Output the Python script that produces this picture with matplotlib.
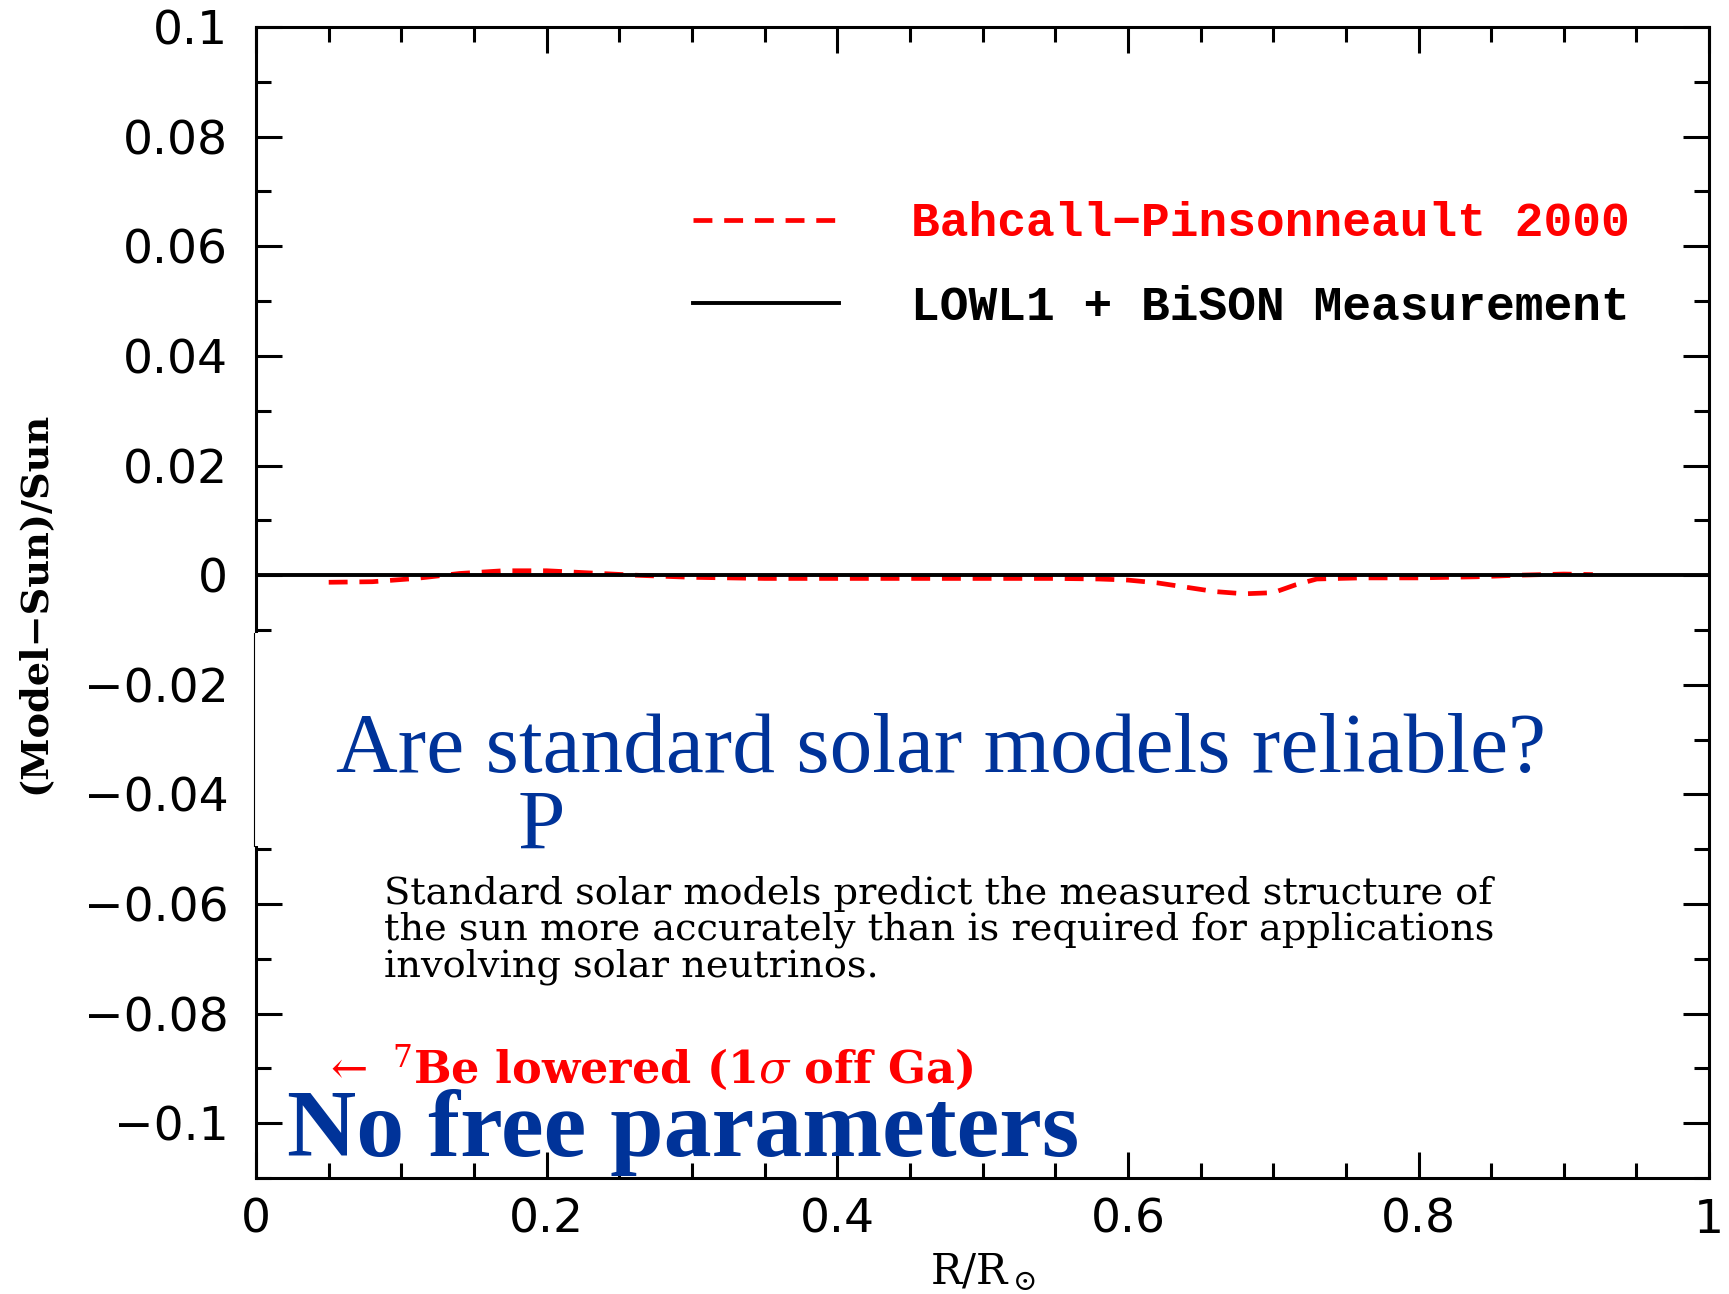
import numpy as np
import matplotlib
matplotlib.use("Agg")
import matplotlib.pyplot as plt
from matplotlib.ticker import MultipleLocator, FuncFormatter
from matplotlib.patches import Rectangle
from matplotlib.lines import Line2D

plt.rcParams["mathtext.fontset"] = "dejavuserif"

# sound speed difference, BP2000 model vs helioseismology
bp_r = [0.05, 0.08, 0.11, 0.14, 0.17, 0.20, 0.23, 0.26, 0.30, 0.35, 0.40, 0.45,
        0.50, 0.55, 0.58, 0.60, 0.62, 0.64, 0.66, 0.68, 0.70, 0.715, 0.73, 0.76,
        0.80, 0.84, 0.87, 0.90, 0.92]
bp_d = [-0.0013, -0.0012, -0.0006, 0.0003, 0.0008, 0.0008, 0.0004, 0.0000, -0.0004,
        -0.0006, -0.0006, -0.0006, -0.0006, -0.0006, -0.0007, -0.0009, -0.0014,
        -0.0022, -0.0030, -0.0034, -0.0032, -0.0018, -0.0007, -0.0005, -0.0005,
        -0.0003, 0.0, 0.0002, 0.0001]
meas_r = [0, 1]
meas_d = [0, 0]

bp_label = "Bahcall\u2212Pinsonneault 2000"
meas_label = "LOWL1 + BiSON Measurement"

blue = "#003399"

fig = plt.figure(figsize=(17.29, 12.94), dpi=100)
ax = fig.add_axes([0.1481, 0.0896, 0.8404, 0.8895])

ax.plot(bp_r, bp_d, color="red", lw=3.4, linestyle=(0, (4, 2.5)), label=bp_label)
ax.plot(meas_r, meas_d, color="black", lw=2.8, label=meas_label)

ax.set_xlim(0, 1)
ax.set_ylim(-0.11, 0.1)
ax.xaxis.set_major_locator(MultipleLocator(0.2))
ax.xaxis.set_minor_locator(MultipleLocator(0.05))
ax.yaxis.set_major_locator(MultipleLocator(0.02))
ax.yaxis.set_minor_locator(MultipleLocator(0.01))
fmt = FuncFormatter(lambda v, p: ("%g" % (round(v, 4) + 0.0)).replace("-", "\u2212"))
ax.xaxis.set_major_formatter(fmt)
ax.yaxis.set_major_formatter(fmt)

ax.tick_params(which="both", direction="in", top=True, right=True, width=2.2)
ax.tick_params(which="major", length=18.7, labelsize=34)
ax.tick_params(which="minor", length=10.8)
ax.tick_params(axis="x", pad=14)
ax.tick_params(axis="y", pad=20)
for s in ax.spines.values():
    s.set_linewidth(2.2)

ax.set_xlabel(r"R/R$_\odot$", fontsize=30, family="DejaVu Serif")
ax.xaxis.set_label_coords(0.5, -0.064)
ax.set_ylabel("(Model\u2212Sun)/Sun", fontsize=27.5, family="DejaVu Serif", fontweight="bold")
ax.yaxis.set_label_coords(-0.140, 0.5)

leg = ax.legend(loc="upper left", bbox_to_anchor=(0.271, 0.886), frameon=False,
                prop={"family": "Liberation Mono", "size": 34.5, "weight": "bold"},
                handlelength=3.05, handletextpad=1.5, labelspacing=0.8)
for t, c in zip(leg.get_texts(), ["red", "black"]):
    t.set_color(c)

# slide overlay texts
fig.text(0.1943, 0.4034, "Are standard solar models reliable?", color=blue,
         family="Liberation Serif", fontsize=61.5, va="baseline")
fig.text(0.2996, 0.3439, "P", color=blue, family="Liberation Serif", fontsize=61.5,
         va="baseline")
fig.text(0.222, 0.2457, "Standard solar models predict the measured structure of\n"
         "the sun more accurately than is required for applications\n"
         "involving solar neutrinos.", color="black", family="DejaVu Serif",
         fontsize=27.5, va="baseline", linespacing=1.0)
fig.text(0.1861, 0.163, r"$\leftarrow$ $^7$Be lowered (1$\sigma$ off Ga)", color="red",
         family="DejaVu Serif", fontweight="bold", fontsize=32, va="baseline")
fig.text(0.166, 0.1066, "No free parameters", color=blue, family="Liberation Serif",
         fontweight="bold", fontsize=69, va="baseline")

# white patch over the left spine in the original slide
fig.patches.append(Rectangle((0.1446, 0.3462), 0.0243, 0.1646, transform=fig.transFigure,
                             facecolor="white", edgecolor="none", zorder=5))
fig.lines.append(Line2D([0.1469, 0.1469], [0.3462, 0.5108], transform=fig.transFigure,
                        color="black", lw=0.8, zorder=6))

fig.savefig("out.png", dpi=100)
